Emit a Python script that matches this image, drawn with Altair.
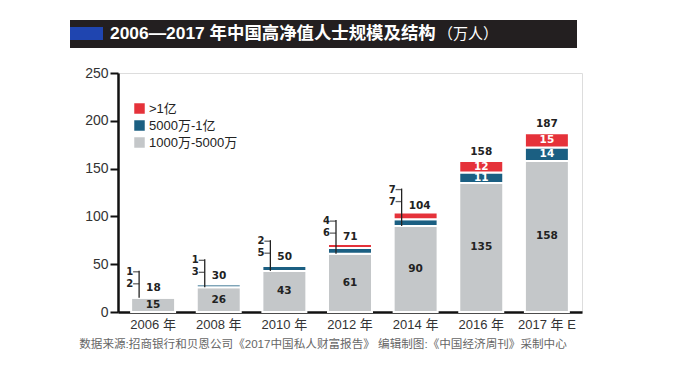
import altair as alt
import pandas as pd

years = ["2006 年", "2008 年", "2010 年", "2012 年", "2014 年", "2016 年", "2017 年 E"]
seg_low = [15, 26, 43, 61, 90, 135, 158]     # 1000万-5000万
seg_mid = [2, 3, 5, 6, 7, 11, 14]            # 5000万-1亿
seg_high = [1, 1, 2, 4, 7, 12, 15]           # >1亿
totals = [18, 30, 50, 71, 104, 158, 187]
series = [">1亿", "5000万-1亿", "1000万-5000万"]
colors = ["#e5323a", "#1b5f82", "#c4c7c9"]
title_main = "2006—2017 年中国高净值人士规模及结构"
title_unit = "（万人）"
source = "数据来源:招商银行和贝恩公司《2017中国私人财富报告》   编辑制图:《中国经济周刊》采制中心"

W, H = 464, 239
LATIN = "Liberation Sans, Noto Sans CJK SC"
NUM = "DejaVu Sans"

wide = pd.DataFrame({"year": years, "low": seg_low, "mid": seg_mid,
                     "high": seg_high, "total": totals})
wide["inline"] = wide["high"] >= 10

rows = []
for _, r in wide.iterrows():
    base = 0
    for name, v, k in [(series[2], r["low"], 0), (series[1], r["mid"], 1), (series[0], r["high"], 2)]:
        rows.append({"year": r["year"], "series": name, "value": v, "k": k,
                     "y0": base, "y1": base + v, "ym": base + v / 2, "inline": r["inline"]})
        base += v
long = pd.DataFrame(rows)

X = alt.X("year:N", sort=years, title=None,
          scale=alt.Scale(paddingInner=0.33, paddingOuter=0.2),
          axis=alt.Axis(labelAngle=0, labelFont=LATIN, labelFontSize=13, labelColor="#333",
                        labelPadding=6, ticks=False, domainColor="#111", domainWidth=2.5))
yscale = alt.Scale(domain=[0, 250], nice=False)
yaxis = alt.Axis(values=[0, 50, 100, 150, 200, 250], title=None, grid=False,
                 labelFont=LATIN, labelFontSize=14, labelColor="#333", labelPadding=2,
                 tickSize=8, tickWidth=2, tickColor="#111", domainColor="#111", domainWidth=2.5)


def Y(f):
    return alt.Y(f, scale=yscale, axis=yaxis, title=None)


bars = alt.Chart(long).mark_bar(stroke="white", strokeWidth=2).encode(
    x=X, y=Y("y0:Q"), y2="y1:Q",
    color=alt.Color("series:N", scale=alt.Scale(domain=series, range=colors),
                    legend=alt.Legend(orient="none", legendX=15, legendY=29, title=None,
                                      symbolType="square", symbolSize=110, symbolStrokeWidth=0,
                                      labelFont=LATIN, labelFontSize=13, labelColor="#222",
                                      labelOffset=3, rowPadding=3, padding=0)),
    order="k:Q")

low_lbl = alt.Chart(long[long["k"] == 0]).mark_text(
    font=NUM, fontWeight="bold", fontSize=10.5, color="#222").encode(
    x=X, y=Y("ym:Q"), text="value:Q")

in_lbl = alt.Chart(long[(long["k"] > 0) & (long["inline"])]).mark_text(
    font=NUM, fontWeight="bold", fontSize=10.5, color="white").encode(
    x=X, y=Y("ym:Q"), text="value:Q")

tot_in = alt.Chart(wide[wide["inline"]]).mark_text(
    font=NUM, fontWeight="bold", fontSize=10.5, color="#222", dy=-9).encode(
    x=X, y=Y("total:Q"), text="total:Q")

br = wide[~wide["inline"]]
br_line = alt.Chart(br).mark_rule(xOffset=-14, y2Offset=-24, strokeWidth=1.3, color="#222").encode(
    x=X, y=Y("low:Q"), y2="total:Q")
br_tick_top = alt.Chart(br).mark_tick(xOffset=-17, yOffset=-23, size=6, thickness=1.3, color="#222").encode(
    x=X, y=Y("total:Q"))
br_tick_mid = alt.Chart(br).mark_tick(xOffset=-17, yOffset=-11, size=6, thickness=1.3, color="#222").encode(
    x=X, y=Y("total:Q"))
br_high = alt.Chart(br).mark_text(font=NUM, fontWeight="bold", fontSize=10, color="#222",
                                  align="right", dx=-20, dy=-23).encode(
    x=X, y=Y("total:Q"), text="high:Q")
br_mid = alt.Chart(br).mark_text(font=NUM, fontWeight="bold", fontSize=10, color="#222",
                                 align="right", dx=-20, dy=-11).encode(
    x=X, y=Y("total:Q"), text="mid:Q")
br_tot = alt.Chart(br).mark_text(font=NUM, fontWeight="bold", fontSize=10.5, color="#222",
                                 align="left", dx=-7, dy=-7).encode(
    x=X, y=Y("total:Q"), text="total:Q")

one = pd.DataFrame({"a": [0]})
head_bg = alt.Chart(one).mark_rect(color="#231f20").encode(
    x=alt.value(-48), x2=alt.value(459), y=alt.value(-53), y2=alt.value(-25))
head_blue = alt.Chart(one).mark_rect(color="#1f45b0").encode(
    x=alt.value(-48), x2=alt.value(-15), y=alt.value(-46), y2=alt.value(-33))
head_txt = alt.Chart(pd.DataFrame({"t": [title_main]})).mark_text(
    font="Liberation Sans, Noto Sans CJK SC", fontWeight="bold", fontSize=17.4, color="white",
    align="left", baseline="middle").encode(x=alt.value(-8), y=alt.value(-39), text="t:N")
head_unit = alt.Chart(pd.DataFrame({"t": [title_unit]})).mark_text(
    font="Noto Sans CJK SC", fontSize=15, color="white",
    align="left", baseline="middle").encode(x=alt.value(320), y=alt.value(-39), text="t:N")
src = alt.Chart(pd.DataFrame({"t": [source]})).mark_text(
    font="Liberation Sans, Noto Sans CJK SC", fontSize=11.6, color="#666",
    align="center", baseline="middle").encode(x=alt.value(205), y=alt.value(272), text="t:N")

chart = alt.layer(
    head_bg, head_blue, head_txt, head_unit,
    bars, low_lbl, in_lbl, tot_in,
    br_line, br_tick_top, br_tick_mid, br_high, br_mid, br_tot, src
).properties(
    width=W, height=H,
    autosize=alt.AutoSizeParams(type="none"),
    padding={"left": 110, "top": 65, "right": 84, "bottom": 47},
).configure_view(stroke=None).configure(background="white")

chart.save("out.html", embed_options={"renderer": "svg", "actions": False})
